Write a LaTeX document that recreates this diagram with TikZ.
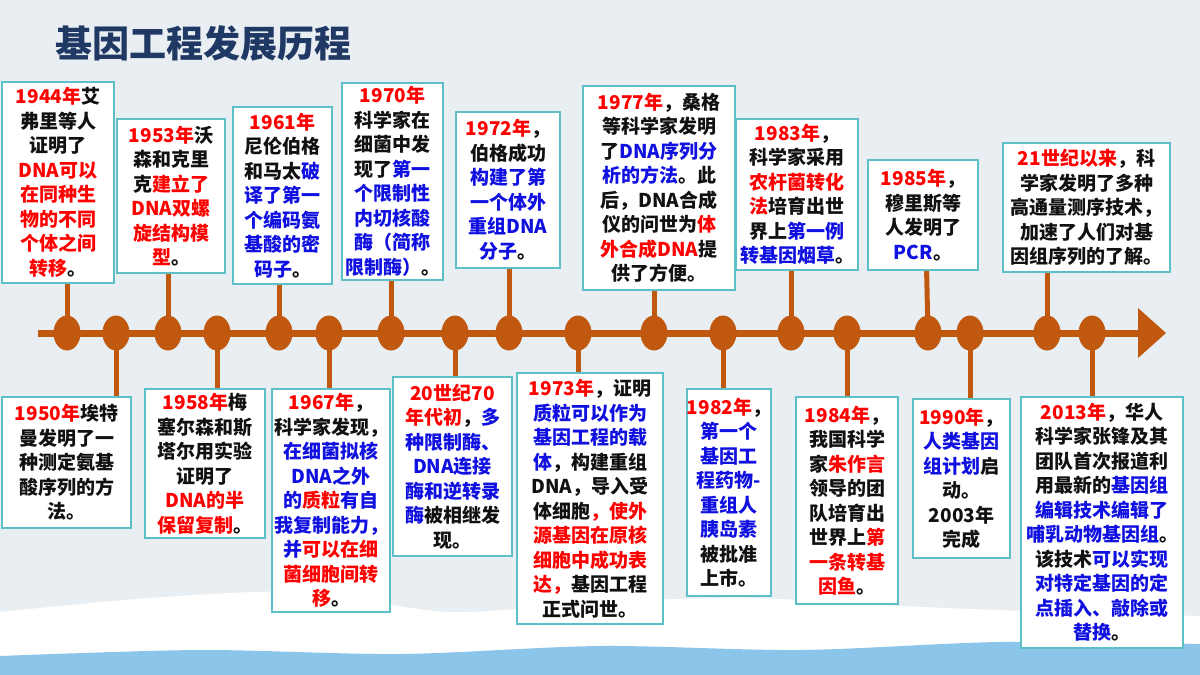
\documentclass[tikz,border=0pt]{standalone}
\usepackage{fontspec}
\setmainfont{Noto Sans CJK SC}
\usetikzlibrary{shapes.geometric,backgrounds}
\definecolor{bg}{HTML}{E9EEF2}
\definecolor{axis}{HTML}{C0580F}
\definecolor{edge}{HTML}{5DBFC8}
\definecolor{myred}{HTML}{FF0000}
\definecolor{myblue}{HTML}{1010E0}
\definecolor{txt}{HTML}{111111}
\definecolor{title}{HTML}{1F3864}
\definecolor{water}{HTML}{8CC5EA}
\newcommand\myR[1]{{\color{myred}#1}}
\newcommand\myB[1]{{\color{myblue}#1}}
\tikzset{
 evbox/.style={draw=edge,line width=1.5pt,fill=white,align=center,inner sep=0pt,
   text=txt,font=\fontsize{19}{24.5}\selectfont\bfseries},
 stem/.style={draw=axis,line width=5pt},
 dot/.style={ellipse,fill=axis,minimum width=27pt,minimum height=35pt,inner sep=0pt},
}
\newcommand\ev[6]{\node[evbox,minimum width={(#4-#2)*1pt},minimum height={(#5-#3)*1pt}] (#1) at ({(#2+#4)/2},{(#3+#5)/2}) {#6};}
\begin{document}
\begin{tikzpicture}[x=1pt,y=-1pt]
\useasboundingbox (0,0) rectangle (1200,675);
\node[anchor=west,text=title,font=\fontsize{37}{42}\selectfont\bfseries] (t) at (52,43) {基因工程发展历程};
\foreach \n/\x in {1/67,2/116,3/168,4/217,5/279,6/329,7/391,8/455,9/509,10/578,11/654,12/723,13/791,14/847,15/928,16/970,17/1047,18/1092}
  \coordinate (c\n) at (\x,333);
% boxes
\ev{u1}{2}{82}{114}{283}{\myR{1944年}艾\\弗里等人\\证明了\\\myR{DNA可以}\\\myR{在同种生}\\\myR{物的不同}\\\myR{个体之间}\\\myR{转移}。}
\ev{u2}{117}{119}{225}{273}{\myR{1953年}沃\\森和克里\\克\myR{建立了}\\\myR{DNA双螺}\\\myR{旋结构模}\\\myR{型}。}
\ev{u3}{233}{107}{332}{284}{\myR{1961年}\\尼伦伯格\\和马太\myB{破}\\\myB{译了第一}\\\myB{个编码氨}\\\myB{基酸的密}\\\myB{码子}。}
\ev{u4}{342}{83}{443}{280}{\myR{1970年}\\科学家在\\细菌中发\\现了\myB{第一}\\\myB{个限制性}\\\myB{内切核酸}\\\myB{酶（简称}\\\myB{限制酶）}。}
\ev{u5}{456}{112}{560}{268}{\myR{1972年}，\\伯格成功\\\myB{构建了第}\\\myB{一个体外}\\\myB{重组DNA}\\\myB{分子}。}
\ev{u6}{583}{86}{735}{290}{\myR{1977年}，桑格\\等科学家发明\\了\myB{DNA序列分}\\\myB{析的方法}。此\\后，DNA合成\\仪的问世为\myR{体}\\\myR{外合成DNA}提\\供了方便。}
\ev{u7}{736}{119}{858}{270}{\myR{1983年}，\\科学家采用\\\myR{农杆菌转化}\\\myR{法}培育出世\\界上\myB{第一例}\\\myB{转基因烟草}。}
\ev{u8}{868}{160}{978}{270}{\myR{1985年}，\\穆里斯等\\人发明了\\\myB{PCR}。}
\ev{u9}{1003}{143}{1170}{272}{\myR{21世纪以来}，科\\学家发明了多种\\高通量测序技术，\\加速了人们对基\\因组序列的了解。}
\ev{l1}{2}{397}{131}{528}{\myR{1950年}埃特\\曼发明了一\\种测定氨基\\酸序列的方\\法。}
\ev{l2}{145}{389}{265}{538}{\myR{1958年}梅\\塞尔森和斯\\塔尔用实验\\证明了\\\myR{DNA的半}\\\myR{保留复制}。}
\ev{l3}{272}{389}{390}{612}{\myR{1967年}，\\科学家发现，\\\myB{在细菌拟核}\\\myB{DNA之外}\\\myB{的}\myR{质粒}\myB{有自}\\\myB{我复制能力，}\\\myB{并}\myR{可以在细}\\\myR{菌细胞间转}\\\myR{移}。}
\ev{l4}{393}{377}{512}{556}{\myR{20世纪70}\\\myR{年代初}，\myB{多}\\\myB{种限制酶、}\\\myB{DNA连接}\\\myB{酶和逆转录}\\\myB{酶}被相继发\\现。}
\ev{l5}{517}{373}{663}{624}{\myR{1973年}，证明\\\myB{质粒可以作为}\\\myB{基因工程的载}\\\myB{体}，构建重组\\DNA，导入受\\体细胞\myR{，使外}\\\myR{源基因在原核}\\\myR{细胞中成功表}\\\myR{达，}基因工程\\正式问世。}
\ev{l6}{690}{389}{768}{596}{\myR{1982年}，\\\myB{第一个}\\\myB{基因工}\\\myB{程药物-}\\\myB{重组人}\\\myB{胰岛素}\\被批准\\上市。}
\ev{l7}{796}{397}{898}{604}{\myR{1984年}，\\我国科学\\家\myR{朱作言}\\领导的团\\队培育出\\世界上\myR{第}\\\myR{一条转基}\\\myR{因鱼}。}
\ev{l8}{913}{399}{1010}{558}{\myR{1990年}，\\\myB{人类基因}\\\myB{组计划}启\\动。\\2003年\\完成}
\ev{l9}{1021}{397}{1183}{648}{\myR{2013年}，华人\\科学家张锋及其\\团队首次报道利\\用最新的\myB{基因组}\\\myB{编辑技术编辑了}\\\myB{哺乳动物基因组}。\\该技术\myB{可以实现}\\\myB{对特定基因的定}\\\myB{点插入、敲除或}\\\myB{替换}。}
\begin{pgfonlayer}{background}
\fill[bg] (0,0) rectangle (1200,675);
\fill[white] plot[smooth] coordinates {(0,612) (150,598) (300,592) (450,612) (600,602) (750,598) (900,606) (1050,612) (1200,616)} -- (1200,675) -- (0,675) -- cycle;
\fill[water] plot[smooth] coordinates {(0,656) (200,650) (400,654) (600,646) (800,650) (1000,642) (1200,644)} -- (1200,675) -- (0,675) -- cycle;
\draw[axis,line width=7pt] (38,333) -- (1140,333);
\fill[axis] (1138,308) -- (1166,333) -- (1138,358) -- cycle;
\foreach \c/\b in {c1/u1,c3/u2,c5/u3,c7/u4,c9/u5,c11/u6,c13/u7,c17/u9,c2/l1,c4/l2,c6/l3,c8/l4,c10/l5,c12/l6,c14/l7,c16/l8,c18/l9}
  \draw[stem] (\c) -- (\c |- \b.center);
\draw[stem] (c15) -- (925,200);
\end{pgfonlayer}
\foreach \n in {1,...,18} \node[dot] (d\n) at (c\n) {};
\end{tikzpicture}
\end{document}
